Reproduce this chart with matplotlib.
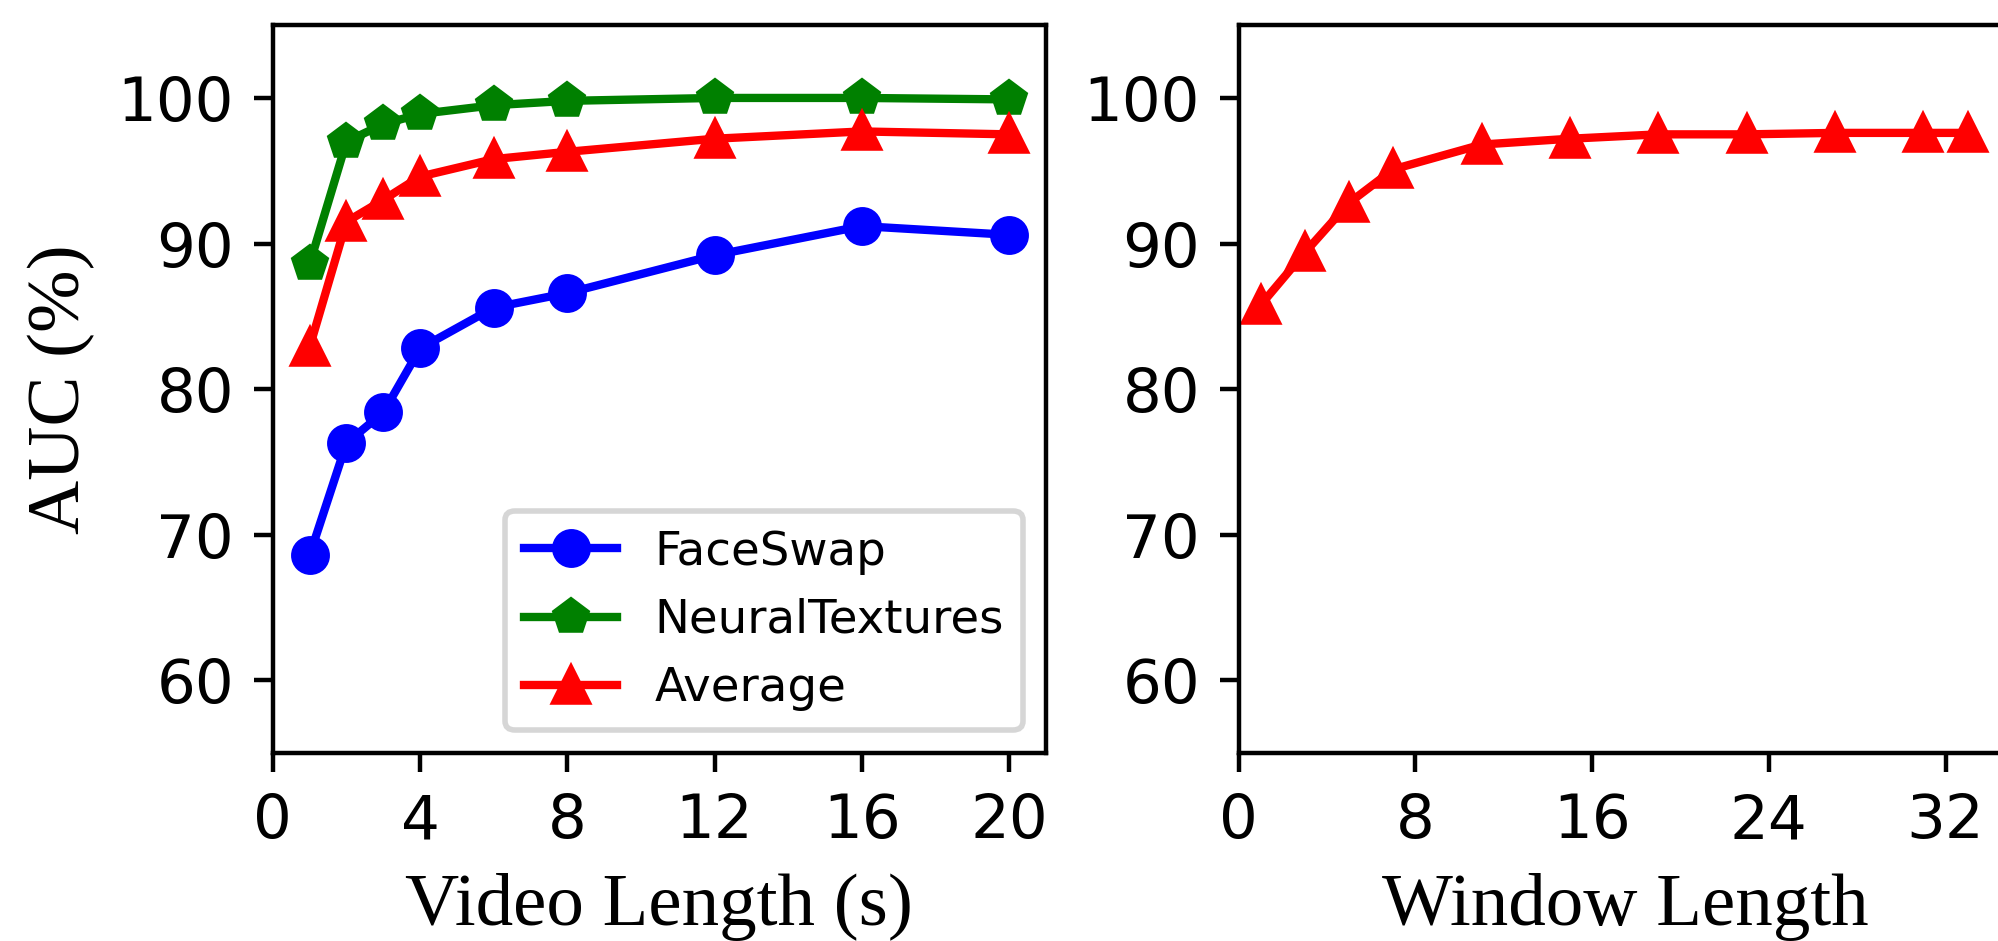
import matplotlib
matplotlib.use("Agg")
import matplotlib.pyplot as plt

# left panel: AUC vs video length
video_len = [1, 2, 3, 4, 6, 8, 12, 16, 20]
faceswap = [68.6, 76.3, 78.4, 82.8, 85.6, 86.6, 89.2, 91.2, 90.6]
neural_textures = [88.6, 97.0, 98.2, 98.9, 99.5, 99.8, 100.0, 100.0, 99.9]
average = [82.9, 91.5, 93.0, 94.6, 95.8, 96.3, 97.2, 97.7, 97.5]

# right panel: AUC vs window length
window_len = [1, 3, 5, 7, 11, 15, 19, 23, 27, 31, 33]
window_auc = [85.8, 89.4, 92.8, 95.1, 96.8, 97.2, 97.5, 97.5, 97.6, 97.6, 97.6]

yticks = [60, 70, 80, 90, 100]
serif = "Liberation Serif"

fig = plt.figure(figsize=(1999 / 400, 941 / 400), dpi=400)
ax1 = fig.add_axes([0.1365, 0.1995, 0.3867, 0.7738])
ax2 = fig.add_axes([0.6197, 0.1995, 0.3867, 0.7738])

ax1.plot(video_len, faceswap, color="blue", marker="o", label="FaceSwap")
ax1.plot(video_len, neural_textures, color="green", marker="p", label="NeuralTextures")
ax1.plot(video_len, average, color="red", marker="^", label="Average")
ax1.set_xlim(0, 21)
ax1.set_ylim(55, 105)
ax1.set_xticks([0, 4, 8, 12, 16, 20])
ax1.set_yticks(yticks)
ax1.set_xlabel("Video Length (s)", family=serif, fontsize=13.5)
ax1.set_ylabel("AUC (%)", family=serif, fontsize=13.5)
ax1.tick_params(labelsize=11)
ax1.legend(loc="lower right", fontsize=8.4)

ax2.plot(window_len, window_auc, color="red", marker="^")
ax2.set_xlim(0, 35)
ax2.set_ylim(55, 105)
ax2.set_xticks([0, 8, 16, 24, 32])
ax2.set_yticks(yticks)
ax2.set_xlabel("Window Length", family=serif, fontsize=13.5)
ax2.tick_params(labelsize=11)

fig.savefig("out.png", dpi=400)
